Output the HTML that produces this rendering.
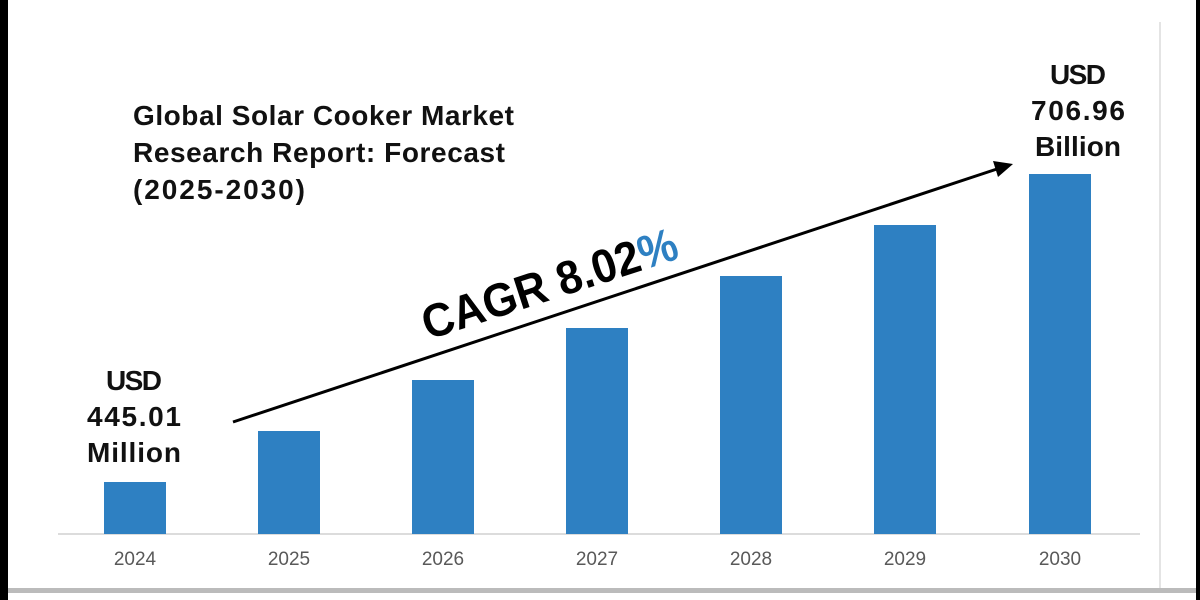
<!DOCTYPE html>
<html><head><style>
html,body{margin:0;padding:0;width:1200px;height:600px;overflow:hidden;background:#fff}
</style></head><body>
<svg width="1200" height="600" xmlns="http://www.w3.org/2000/svg" font-family="Liberation Sans, DejaVu Sans, sans-serif">
<rect x="0" y="0" width="1200" height="600" fill="#fff"/>
<rect x="0" y="0" width="8" height="600" fill="#000"/>
<rect x="1196" y="0" width="4" height="600" fill="#000"/>
<rect x="8" y="588" width="1188" height="5" fill="#bbb"/>
<rect x="8" y="593" width="1188" height="7" fill="#fff"/>
<line x1="1160" y1="22" x2="1160" y2="588" stroke="#e4e4e4" stroke-width="2"/>
<line x1="58" y1="534" x2="1140" y2="534" stroke="#d0d0d0" stroke-width="1.5"/>
<g fill="#2e80c2">
<rect x="104" y="482" width="62" height="52"/>
<rect x="258" y="431" width="62" height="103"/>
<rect x="412" y="380" width="62" height="154"/>
<rect x="566" y="328" width="62" height="206"/>
<rect x="720" y="276" width="62" height="258"/>
<rect x="874" y="225" width="62" height="309"/>
<rect x="1029" y="174" width="62" height="360"/>
</g>
<g fill="#595959" font-size="19" text-anchor="middle">
<text x="135" y="565">2024</text><text x="289" y="565">2025</text><text x="443" y="565">2026</text>
<text x="597" y="565">2027</text><text x="751" y="565">2028</text><text x="905" y="565">2029</text><text x="1060" y="565">2030</text>
</g>
<g font-weight="bold" font-size="28" fill="#111" lengthAdjust="spacingAndGlyphs">
<text x="133" y="125" textLength="381">Global Solar Cooker Market</text>
<text x="133" y="162" textLength="372">Research Report: Forecast</text>
<text x="133" y="199" textLength="172">(2025-2030)</text>
</g>
<g font-weight="bold" font-size="28" fill="#111" text-anchor="middle">
<text x="134" y="390" textLength="56">USD</text><text x="134" y="426" textLength="94">445.01</text><text x="134" y="462" textLength="94">Million</text>
<text x="1078" y="84" textLength="56">USD</text><text x="1078" y="120" textLength="94">706.96</text><text x="1078" y="156" textLength="86">Billion</text>
</g>
<line x1="233" y1="422" x2="1000" y2="168" stroke="#000" stroke-width="3"/>
<polygon points="1013,164 993,161 998,177" fill="#000"/>
<text transform="translate(428,340) rotate(-18)" font-size="47" font-weight="bold" fill="#000" textLength="266" lengthAdjust="spacingAndGlyphs">CAGR 8.02<tspan fill="#2e80c2">%</tspan></text>
</svg>
</body></html>
